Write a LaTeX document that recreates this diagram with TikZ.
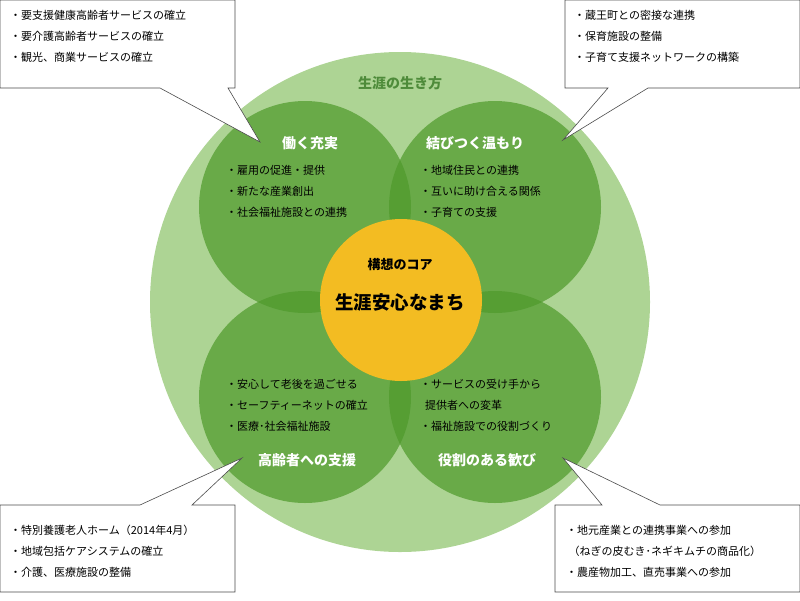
\documentclass[tikz,border=0pt]{standalone}
\usepackage{fontspec}
\setmainfont{Noto Sans CJK JP}
\usetikzlibrary{positioning}
\definecolor{outergreen}{HTML}{ADD494}
\definecolor{petalgreen}{HTML}{4F9A2C}
\definecolor{coreyellow}{HTML}{F3BC22}
\definecolor{headgreen}{HTML}{4E8B3A}
\tikzset{petal/.style={circle, fill=petalgreen, fill opacity=0.72, minimum size=212pt, inner sep=0pt},
         title/.style={text=white, font=\bfseries\fontsize{14}{16}\selectfont},
         items/.style={anchor=north west, align=left, inner sep=0pt, font=\fontsize{11}{21}\selectfont},
         callout/.style={draw=black!70, fill=white, line width=0.6pt}}
\begin{document}
\begin{tikzpicture}[x=1pt,y=-1pt]
                \useasboundingbox (0,0) rectangle (800,600);
                \node[circle, fill=outergreen, minimum size=500pt, inner sep=0pt] (life) at (400,302) {};
                \node[text=headgreen, font=\bfseries\fontsize{14}{16}\selectfont] (lifet) at (400,83) {生涯の生き方};
    
                \node[petal] (work) at (305,207) {};
                \node[petal] (bond) at (495,207) {};
                \node[petal] (elder) at (305,397) {};
                \node[petal] (role) at (495,397) {};
                \node[circle, fill=coreyellow, minimum size=162pt, inner sep=0pt] (core) at (401,300) {};
    
                \node[title] (workt) at (310,143) {働く充実};
                \node[title] (bondt) at (475,143) {結びつく温もり};
                \node[title] (eldert) at (307,460) {高齢者への支援};
                \node[title] (rolet) at (487,460) {役割のある歓び};
                \node[font=\bfseries\fontsize{13}{15}\selectfont] (coret) at (400,265) {構想のコア};
                \node[font=\bfseries\fontsize{18.5}{21}\selectfont] (corem) at (400,302) {生涯安心なまち};
    
                \node[items] (worki) at (226,165) {・雇用の促進・提供\\・新たな産業創出\\・社会福祉施設との連携};
                \node[items] (bondi) at (420,165) {・地域住民との連携\\・互いに助け合える関係\\・子育ての支援};
                \node[items] (elderi) at (226,379) {・安心して老後を過ごせる\\・セーフティーネットの確立\\・医療･社会福祉施設};
                \node[items] (rolei) at (420,379) {・サービスの受け手から\\\ \ 提供者への変革\\・福祉施設での役割づくり};
    
                % callouts
                \coordinate (tl1) at (160,88);
                \coordinate (tl2) at (228,88);
                \coordinate (tlt) at (260,142);
                \coordinate (tr1) at (608,88);
                \coordinate (tr2) at (648,88);
                \coordinate (trt) at (563,140);
                \coordinate (bl1) at (140,505);
                \coordinate (bl2) at (192,505);
                \coordinate (blt) at (242,458);
                \coordinate (br1) at (602,505);
                \coordinate (br2) at (660,505);
                \coordinate (brt) at (563,458);
    
                \draw[callout] (0,0) -- (235,0) -- (235,88) -- (tl2) -- (tlt) -- (tl1) -- (0,88) -- cycle;
                \draw[callout] (565,0) -- (800,0) -- (800,88) -- (tr2) -- (trt) -- (tr1) -- (565,88) -- cycle;
                \draw[callout] (0,505) -- (bl1) -- (blt) -- (bl2) -- (235,505) -- (235,592) -- (0,592) -- cycle;
                \draw[callout] (555,505) -- (br1) -- (brt) -- (br2) -- (800,505) -- (800,592) -- (555,592) -- cycle;
    
                \node[items] (tlbox) at (10,10) {・要支援健康高齢者サービスの確立\\・要介護高齢者サービスの確立\\・観光、商業サービスの確立};
                \node[items] (trbox) at (574,10) {・蔵王町との密接な連携\\・保育施設の整備\\・子育て支援ネットワークの構築};
                \node[items] (blbox) at (10,525) {・特別養護老人ホーム（2014年4月）\\・地域包括ケアシステムの確立\\・介護、医療施設の整備};
                \node[items] (brbox) at (566,525) {・地元産業との連携事業への参加\\\ （ねぎの皮むき･ネギキムチの商品化）\\・農産物加工、直売事業への参加};
\end{tikzpicture}
\end{document}
